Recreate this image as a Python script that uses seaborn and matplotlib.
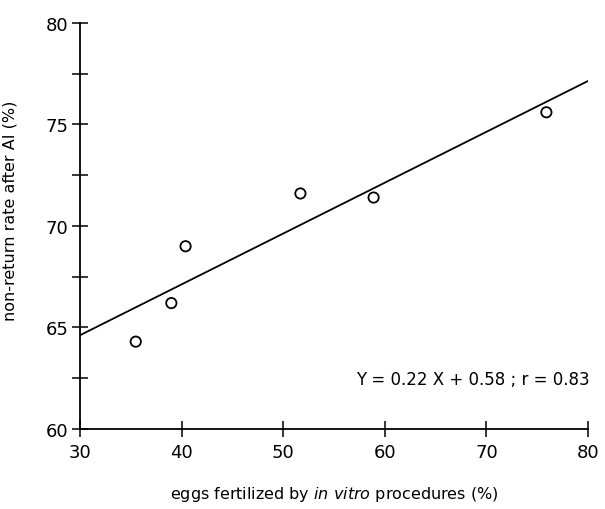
import numpy as np
import pandas as pd
import matplotlib
matplotlib.use('Agg')
import matplotlib.pyplot as plt
import seaborn as sns

# values
eggs_fertilized = [35.5, 39.0, 40.4, 51.7, 58.9, 75.9]
non_return_rate = [64.3, 66.2, 69.0, 71.6, 71.4, 75.6]
x_ticks = [30, 40, 50, 60, 70, 80]
y_ticks = [60, 62.5, 65, 67.5, 70, 72.5, 75, 77.5, 80]
y_tick_labels = ['60', '', '65', '', '70', '', '75', '', '80']
equation = 'Y = 0.22 X + 0.58 ; r = 0.83'


def generate_plot():
    df = pd.DataFrame({'eggs': eggs_fertilized, 'nonreturn': non_return_rate})

    sns.set_style('ticks')
    plt.rcParams['font.family'] = ['DejaVu Sans']
    plt.rcParams['mathtext.fontset'] = 'dejavusans'
    plt.rcParams['text.color'] = 'black'
    plt.rcParams['axes.labelcolor'] = 'black'

    fig = plt.figure(figsize=(6.05, 5.1), dpi=100)
    ax = fig.add_axes([0.132, 0.157, 0.840, 0.796])
    ax.set_xlim(30, 80)
    ax.set_ylim(60, 80)

    sns.regplot(x='eggs', y='nonreturn', data=df, ax=ax, scatter=False,
                ci=None, truncate=False, color='black',
                line_kws={'linewidth': 1.3})
    sns.scatterplot(x='eggs', y='nonreturn', data=df, ax=ax, marker='o',
                    s=55, facecolor='none', edgecolor='black', linewidth=1.3,
                    zorder=3)

    ax.set_xlim(30, 80)
    ax.set_ylim(60, 80)
    ax.set_xticks(x_ticks)
    ax.set_yticks(y_ticks)
    ax.set_yticklabels(y_tick_labels)
    ax.tick_params(axis='both', direction='inout', length=12, width=1.1,
                   colors='black', labelcolor='black', labelsize=13, pad=2)
    ax.tick_params(axis='x', pad=4)

    for side in ['top', 'right']:
        ax.spines[side].set_visible(False)
    for side in ['left', 'bottom']:
        ax.spines[side].set_linewidth(1.3)
        ax.spines[side].set_color('black')

    ax.set_xlabel(r'eggs fertilized by $\mathit{in\ vitro}$ procedures (%)', fontsize=11.5)
    ax.set_ylabel('non-return rate after AI (%)', fontsize=11.5)
    ax.xaxis.set_label_coords(0.5, -0.135)
    ax.yaxis.set_label_coords(-0.122, 0.54)

    ax.text(80.2, 62.45, equation, ha='right', va='center', fontsize=12)

    fig.savefig('out.png', dpi=100)
    plt.close(fig)


if __name__ == '__main__':
    generate_plot()
